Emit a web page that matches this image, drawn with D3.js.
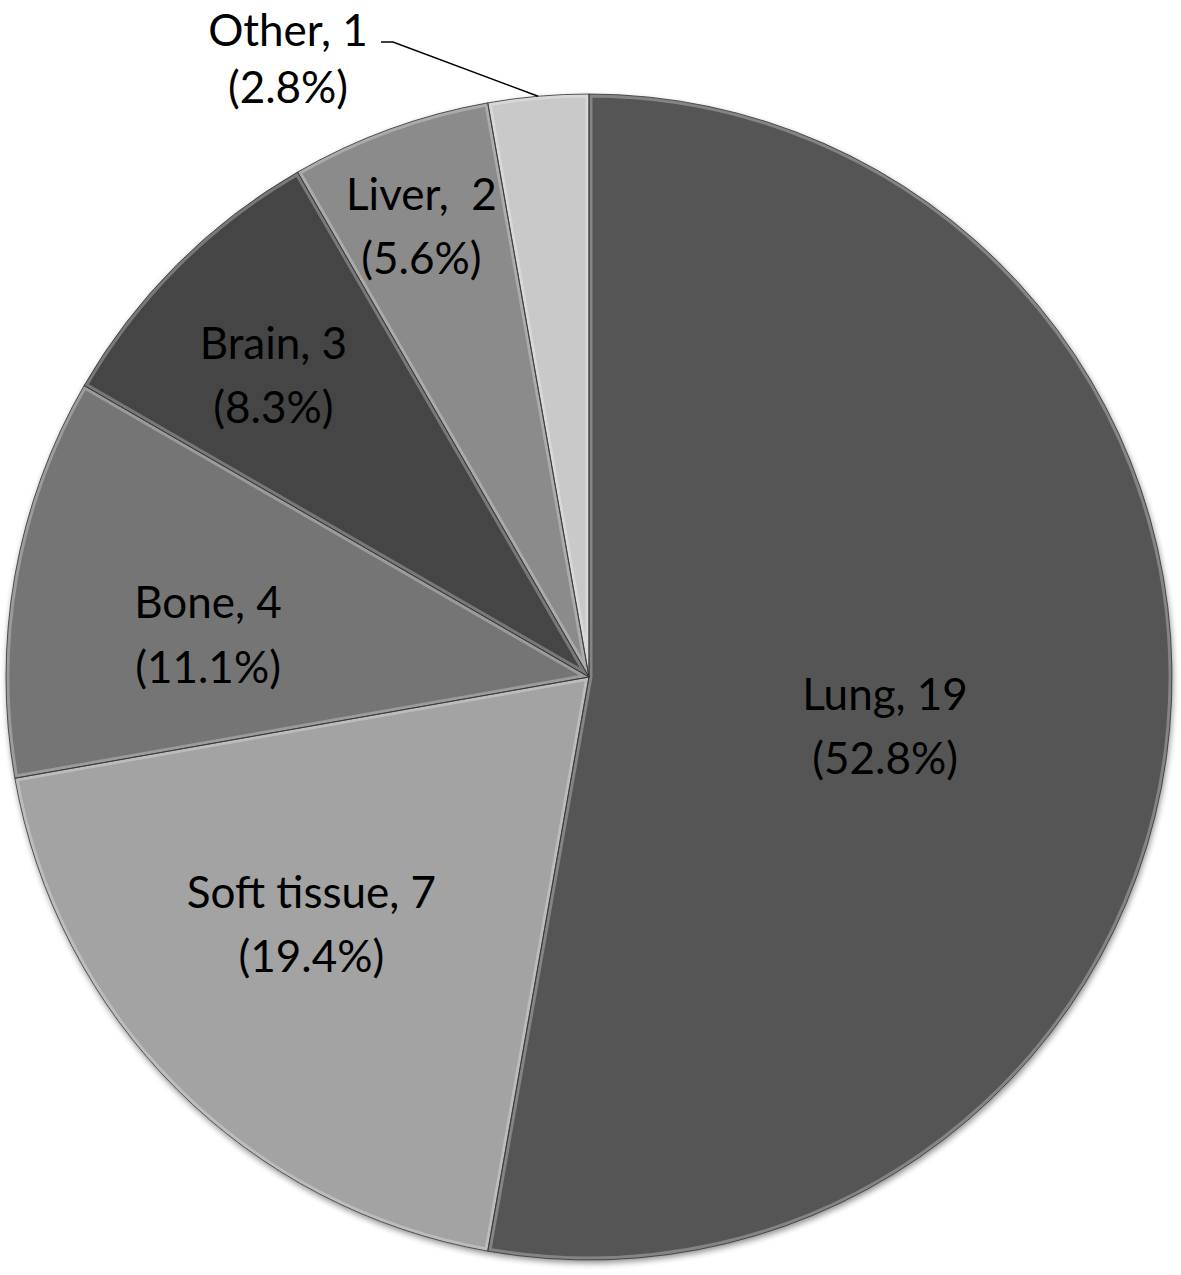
<!DOCTYPE html>
<html>
<head>
<meta charset="utf-8">
<script src="https://cdn.jsdelivr.net/npm/d3@7"></script>
<style>
  body { margin: 0; background: #fff; }
  svg { display: block; }
</style>
</head>
<body>
<script>
// data
const sites = ['Lung', 'Soft tissue', 'Bone', 'Brain', 'Liver', 'Other'];
const counts = [19, 7, 4, 3, 2, 1];
const percents = ['52.8%', '19.4%', '11.1%', '8.3%', '5.6%', '2.8%'];
const sep = [', ', ', ', ', ', ', ', ',  ', ', '];
const fills = ['#555555', '#a3a3a3', '#747474', '#444444', '#8b8b8b', '#c9c9c9'];

// label nudges from the centroid (Excel best fit placement)
const nudge = [[-64, 17], [-22, -9], [-25, 20], [-60, -47], [-44, -112], [0, 0]];

const W = 1181, H = 1275;
const cx = 589, cy = 677, R = 583;

const svg = d3.select('body').append('svg')
    .attr('width', W)
    .attr('height', H);

const defs = svg.append('defs');
const shadow = defs.append('filter').attr('id', 'shadow')
    .attr('x', '-10%').attr('y', '-10%').attr('width', '120%').attr('height', '120%');
shadow.append('feGaussianBlur').attr('in', 'SourceAlpha').attr('stdDeviation', 3);
shadow.append('feOffset').attr('dx', 1).attr('dy', 3).attr('result', 'b');
shadow.append('feComponentTransfer').append('feFuncA').attr('type', 'linear').attr('slope', 0.45);
const merge = shadow.append('feMerge');
merge.append('feMergeNode');
merge.append('feMergeNode').attr('in', 'SourceGraphic');

const pie = d3.pie().sort(null).value(d => d)(counts);
const arc = d3.arc().innerRadius(0).outerRadius(R);
const labelArc = d3.arc().innerRadius(R * 0.62).outerRadius(R * 0.62);

const g = svg.append('g').attr('transform', `translate(${cx},${cy})`);

pie.forEach((p, i) => {
    defs.append('clipPath').attr('id', 'clip' + i)
        .append('path').attr('d', arc(p));
});

const slices = g.append('g').attr('filter', 'url(#shadow)');

slices.selectAll('path.slice')
    .data(pie)
    .enter()
    .append('path')
    .attr('class', 'slice')
    .attr('d', arc)
    .attr('fill', (d, i) => fills[i]);

// soft bevel highlight inside each slice
g.selectAll('path.hl')
    .data(pie)
    .enter()
    .append('path')
    .attr('class', 'hl')
    .attr('d', arc)
    .attr('clip-path', (d, i) => 'url(#clip' + i + ')')
    .attr('fill', 'none')
    .attr('stroke', 'rgba(255,255,255,0.28)')
    .attr('stroke-width', 7);

g.selectAll('path.edge')
    .data(pie)
    .enter()
    .append('path')
    .attr('class', 'edge')
    .attr('d', arc)
    .attr('fill', 'none')
    .attr('stroke', '#333')
    .attr('stroke-width', 0.8);

// labels
const fontSize = 44;
pie.forEach((p, i) => {
    let x, y;
    if (i === 5) {
        x = 288 - cx; y = 62 - cy;
    } else {
        const c = labelArc.centroid(p);
        x = c[0] + nudge[i][0];
        y = c[1] + nudge[i][1];
    }
    const t = g.append('text')
        .attr('x', x)
        .attr('y', y)
        .attr('text-anchor', 'middle')
        .attr('font-family', 'Lato, "Open Sans", sans-serif')
        .attr('font-size', fontSize)
        .attr('fill', '#000')
        .style('white-space', 'pre');
    t.append('tspan').attr('x', x).attr('dy', '-0.36em')
        .text(sites[i] + sep[i] + counts[i]);
    t.append('tspan').attr('x', x).attr('dy', i === 5 ? '1.3em' : '1.47em')
        .text('(' + percents[i] + ')');
});

// leader line for Other
const other = pie[5];
const mid = (other.startAngle + other.endAngle) / 2;
const end = [Math.sin(mid) * R, -Math.cos(mid) * R];
const lx = 381 - cx, ly = 42 - cy;
g.append('polyline')
    .attr('points', [[lx, ly], [lx + 12, ly], end].map(p => p.join(',')).join(' '))
    .attr('fill', 'none')
    .attr('stroke', '#000')
    .attr('stroke-width', 1.5);
</script>
</body>
</html>
